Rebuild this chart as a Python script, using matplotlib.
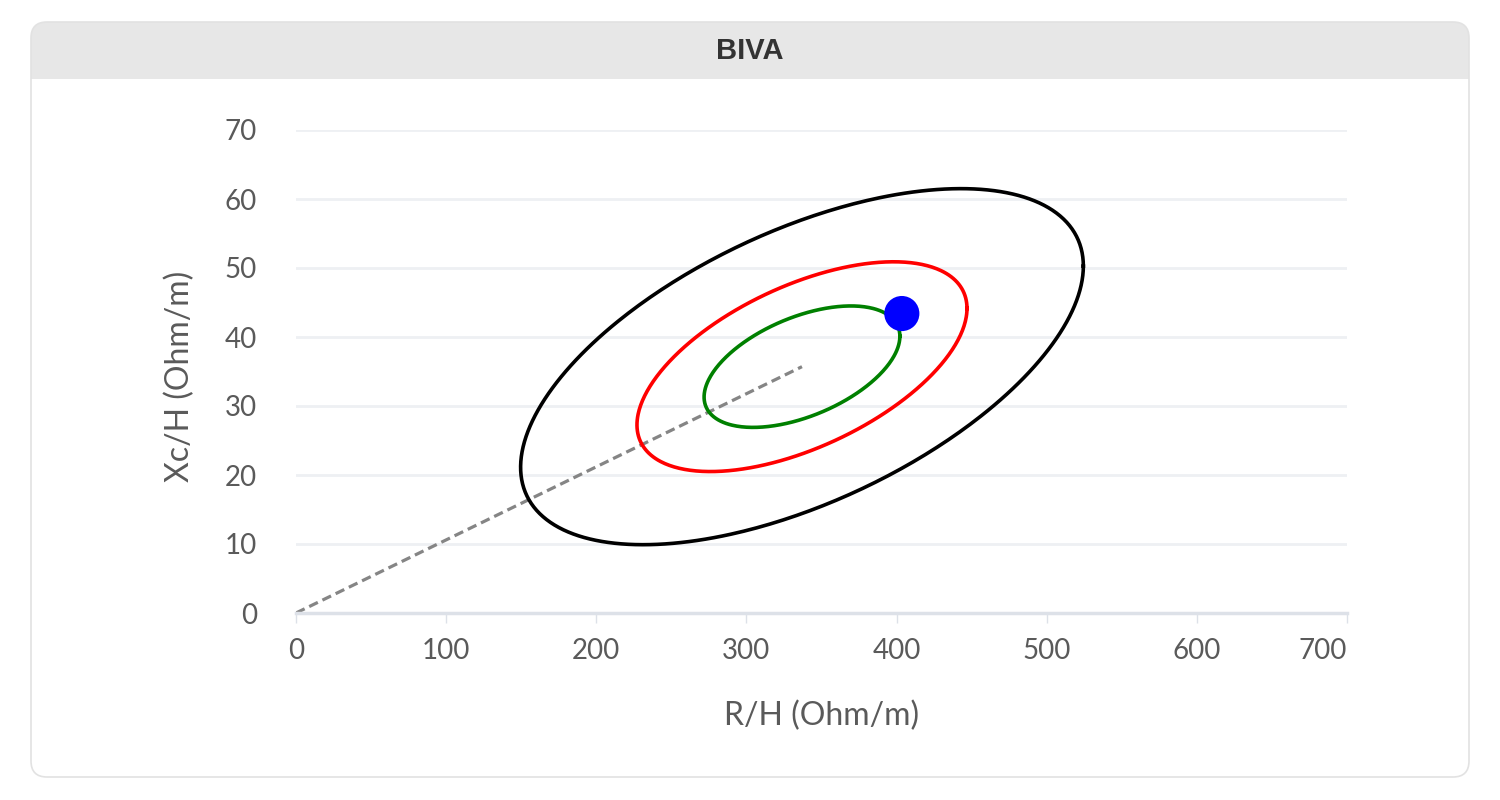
import numpy as np
import matplotlib
matplotlib.use("Agg")
import matplotlib.pyplot as plt
from matplotlib.patches import FancyBboxPatch, Rectangle

# BIVA data
center_r = 337.0
center_xc = 35.7
ellipse_colors = ["black", "red", "green"]
ellipse_half_r = [187.4, 109.9, 65.2]     # half extent along R/H
ellipse_half_xc = [25.8, 15.2, 8.8]       # half extent along Xc/H
ellipse_corr = [0.565, 0.555, 0.5]
point_r = [403.5]
point_xc = [43.4]
vector_r = [0, center_r]
vector_xc = [0, center_xc]
x_ticks = [0, 100, 200, 300, 400, 500, 600, 700]
y_ticks = [0, 10, 20, 30, 40, 50, 60, 70]

plt.rcParams['font.family'] = ['Lato', 'DejaVu Sans']

fig = plt.figure(figsize=(15, 8), dpi=100)
fig.patch.set_facecolor("white")

# card with header
card = FancyBboxPatch((0.31, 0.23), 14.38, 7.55, boxstyle="round,pad=0,rounding_size=0.16",
                      transform=fig.dpi_scale_trans, facecolor="white", edgecolor="none", zorder=0)
fig.patches.append(card)
head = FancyBboxPatch((0.31, 7.21), 14.38, 0.57, boxstyle="round,pad=0,rounding_size=0.16",
                      transform=fig.dpi_scale_trans, facecolor="#e7e7e7", edgecolor="none", zorder=1)
fig.patches.append(head)
head_low = Rectangle((0.31, 7.21), 14.38, 0.3, transform=fig.dpi_scale_trans,
                     facecolor="#e7e7e7", edgecolor="none", zorder=1)
fig.patches.append(head_low)
border = FancyBboxPatch((0.31, 0.23), 14.38, 7.55, boxstyle="round,pad=0,rounding_size=0.16",
                        transform=fig.dpi_scale_trans, facecolor="none", edgecolor="#e2e2e2",
                        linewidth=1.2, zorder=2)
fig.patches.append(border)
fig.text(0.5, 1 - 51 / 800, "BIVA", ha="center", va="center", fontsize=21,
         fontweight="bold", color="#333333", family=['Liberation Sans', 'DejaVu Sans'], zorder=3)

ax = fig.add_axes([296 / 1500, 1 - 613 / 800, 1051 / 1500, 483 / 800])
ax.set_zorder(5)
ax.set_facecolor("none")

t = np.linspace(0, 2 * np.pi, 400)
for col, a, b, r in zip(ellipse_colors, ellipse_half_r, ellipse_half_xc, ellipse_corr):
    xs = center_r + a * np.cos(t)
    ys = center_xc + b * (r * np.cos(t) + np.sqrt(1 - r ** 2) * np.sin(t))
    ax.plot(xs, ys, color=col, linewidth=2.6, zorder=3)

ax.plot(vector_r, vector_xc, color="#858585", linewidth=2.3, linestyle=(0, (3, 1.6)), zorder=2)
ax.scatter(point_r, point_xc, s=640, color="#0000ff", zorder=5, edgecolors="none")

ax.set_xlim(0, 700)
ax.set_ylim(0, 70)
ax.set_xticks(x_ticks)
ax.set_yticks(y_ticks)
ax.grid(axis="y", color="#eef0f3", linewidth=2)
ax.set_axisbelow(True)
for s in ["top", "right", "left"]:
    ax.spines[s].set_visible(False)
ax.spines["bottom"].set_color("#dde1e8")
ax.spines["bottom"].set_linewidth(2.5)
ax.tick_params(axis="x", length=7, width=1, color="#dde1e8", pad=11,
               labelsize=20, labelcolor="#5a5a5a")
ax.tick_params(axis="y", length=0, pad=28, labelsize=20, labelcolor="#5a5a5a")
ax.get_xticklabels()[-1].set_ha("right")

ax.set_xlabel("R/H (Ohm/m)", fontsize=23, color="#5a5a5a", va="center")
ax.xaxis.set_label_coords(0.5, -103 / 483)
ax.set_ylabel("Xc/H (Ohm/m)", fontsize=23, color="#5a5a5a", va="center", ha="center")
ax.yaxis.set_label_coords(-116 / 1051, 0.5 - 5 / 483)

fig.savefig("out.png", dpi=100)
